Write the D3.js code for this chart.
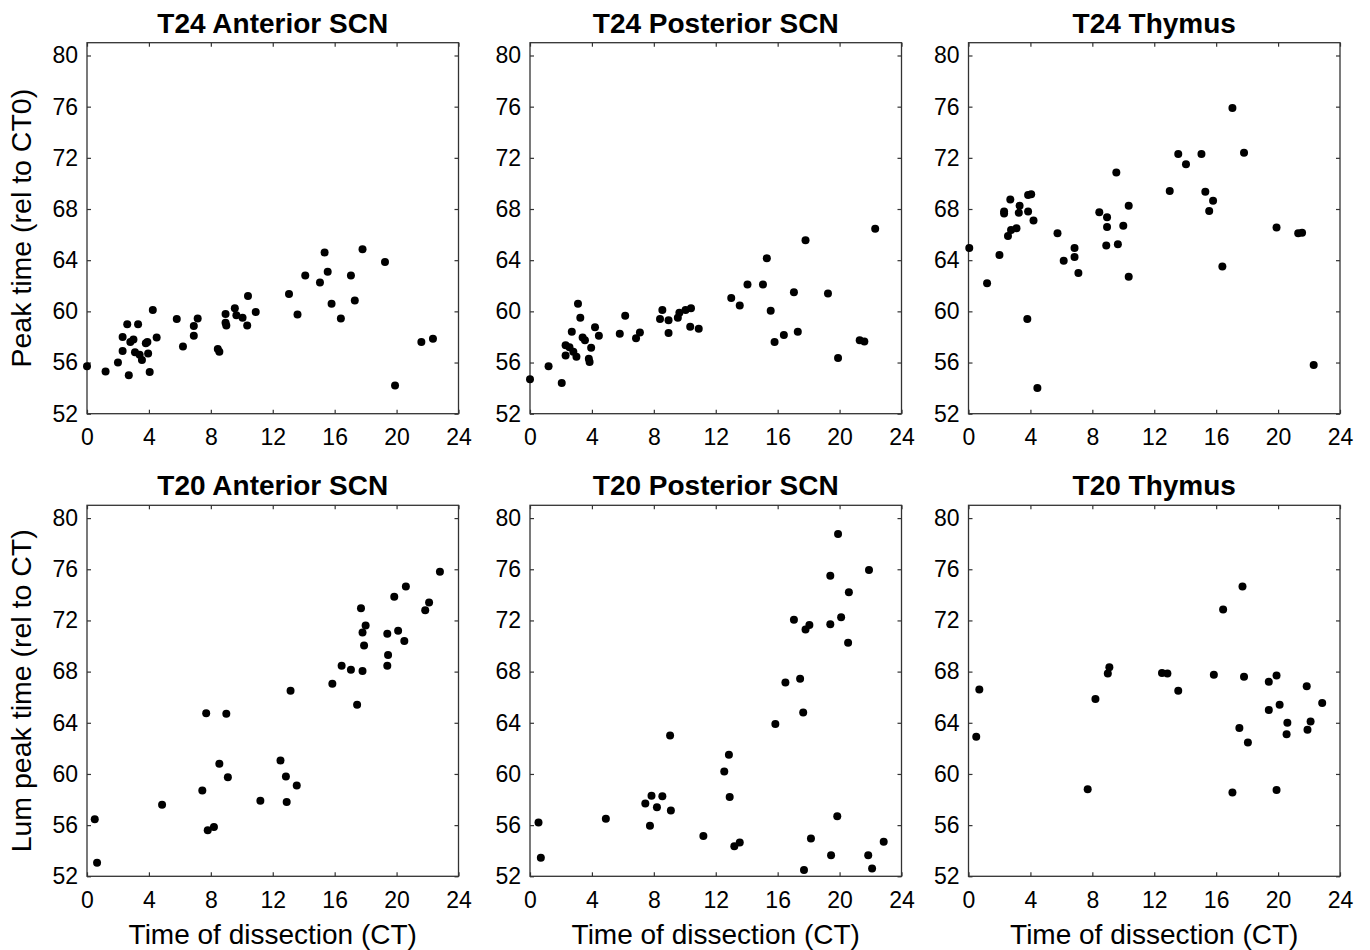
<!DOCTYPE html>
<html>
<head>
<meta charset="utf-8">
<script src="https://cdn.jsdelivr.net/npm/d3@7"></script>
<style>
  body { margin: 0; background: #fff; }
  svg { font-family: "Liberation Sans", Arial, Helvetica, sans-serif; }
</style>
</head>
<body>
<div id="chart"></div>
<script>
// D3 - six scatter panels of peak time vs time of dissection

// tick values
var xTicks = [0, 4, 8, 12, 16, 20, 24];
var yTicks = [52, 56, 60, 64, 68, 72, 76, 80];

// panel titles
var titles = ["T24 Anterior SCN", "T24 Posterior SCN", "T24 Thymus",
  "T20 Anterior SCN", "T20 Posterior SCN", "T20 Thymus"];

var yLabels = ["Peak time (rel to CT0)", "Lum peak time (rel to CT)"];
var xLabel = "Time of dissection (CT)";

// points, [time of dissection, peak time]
var t24Anterior = [
  [0.0, 55.7], [1.2, 55.3], [2.0, 56.0], [2.7, 55.0], [2.3, 56.9], [2.3, 58.0],
  [2.6, 59.0], [3.3, 59.0], [2.8, 57.6], [3.0, 57.8], [3.1, 56.8], [3.4, 56.6],
  [3.55, 56.2], [3.8, 57.5], [3.9, 57.6], [3.95, 56.7], [4.05, 55.25], [4.25, 60.1],
  [4.5, 57.95], [5.8, 59.4], [6.2, 57.25], [6.9, 58.1], [6.9, 58.85], [7.15, 59.45],
  [8.45, 57.05], [8.55, 56.85], [8.95, 59.8], [8.95, 59.1], [9.0, 58.9], [9.55, 60.25],
  [9.65, 59.7], [10.05, 59.5], [10.35, 58.9], [10.4, 61.2], [10.9, 59.95], [13.05, 61.35],
  [13.6, 59.75], [14.1, 62.8], [15.05, 62.25], [15.35, 64.6], [15.55, 63.1], [15.8, 60.6],
  [16.4, 59.45], [17.05, 62.8], [17.3, 60.85], [17.8, 64.85], [19.25, 63.85], [19.9, 54.2],
  [21.6, 57.6], [22.35, 57.85]
];

var t24Posterior = [
  [0.0, 54.7], [1.2, 55.7], [2.05, 54.4], [2.3, 56.55], [2.3, 57.35], [2.55, 57.2],
  [2.7, 58.4], [2.8, 56.85], [3.0, 56.45], [3.1, 60.6], [3.25, 59.5], [3.4, 57.95],
  [3.55, 57.75], [3.8, 56.3], [3.85, 56.05], [3.95, 57.15], [4.2, 58.75], [4.45, 58.1],
  [5.8, 58.25], [6.15, 59.65], [6.85, 57.9], [7.1, 58.35], [8.55, 60.1], [8.4, 59.4],
  [8.95, 59.3], [8.95, 58.3], [9.55, 59.5], [9.65, 59.9], [10.05, 60.1], [10.4, 60.25],
  [10.35, 58.8], [10.9, 58.65], [13.0, 61.05], [13.55, 60.45], [14.05, 62.1], [15.05, 62.1],
  [15.3, 64.15], [15.55, 60.05], [15.8, 57.6], [16.4, 58.15], [17.05, 61.5], [17.3, 58.4],
  [17.8, 65.55], [19.25, 61.4], [19.9, 56.35], [21.3, 57.75], [21.6, 57.65], [22.3, 66.45]
];

var t24Thymus = [
  [0.05, 64.95], [1.2, 62.2], [2.0, 64.4], [2.3, 67.8], [2.3, 67.65], [2.55, 65.9],
  [2.75, 66.35], [3.1, 66.5], [2.7, 68.75], [3.3, 68.25], [3.25, 67.7], [3.85, 67.8],
  [3.85, 69.1], [4.05, 69.15], [4.2, 67.1], [3.8, 59.4], [4.45, 54.0], [5.75, 66.1],
  [6.15, 63.95], [6.85, 64.95], [6.85, 64.25], [7.1, 63.0], [8.45, 67.75], [8.95, 67.35],
  [8.95, 66.6], [8.9, 65.15], [9.65, 65.25], [9.55, 70.85], [10.0, 66.7], [10.35, 68.25],
  [10.35, 62.7], [13.0, 69.4], [13.55, 72.3], [14.05, 71.5], [15.05, 72.3], [15.3, 69.35],
  [15.8, 68.65], [15.55, 67.85], [16.4, 63.5], [17.05, 75.9], [17.8, 72.4], [19.9, 66.55],
  [21.3, 66.1], [21.55, 66.15], [22.3, 55.8]
];

var t20Anterior = [
  [0.5, 56.45], [0.65, 53.05], [4.85, 57.6], [7.45, 58.7], [7.7, 64.75], [7.8, 55.6],
  [8.2, 55.85], [8.55, 60.8], [9.0, 64.7], [9.1, 59.75], [11.2, 57.9], [12.5, 61.05],
  [12.85, 59.8], [12.9, 57.8], [13.15, 66.5], [13.55, 59.1], [15.85, 67.05], [16.45, 68.45],
  [17.05, 68.15], [17.45, 65.4], [17.7, 72.95], [17.8, 71.05], [17.8, 68.05], [17.9, 70.05],
  [18.0, 71.6], [19.4, 70.95], [19.45, 69.3], [19.4, 68.45], [19.85, 73.85], [20.1, 71.2],
  [20.5, 70.4], [20.6, 74.65], [21.85, 72.8], [22.1, 73.4], [22.8, 75.8]
];

var t20Posterior = [
  [0.55, 56.2], [0.7, 53.45], [4.9, 56.5], [7.45, 57.7], [7.75, 55.95], [7.85, 58.3],
  [8.2, 57.4], [8.55, 58.25], [9.05, 63.0], [9.1, 57.15], [11.2, 55.15], [12.55, 60.2],
  [12.85, 61.5], [12.9, 58.2], [13.2, 54.35], [13.55, 54.65], [15.85, 63.9], [16.5, 67.15],
  [17.05, 72.05], [17.45, 67.45], [17.65, 64.8], [17.7, 52.5], [17.8, 71.3], [18.05, 71.65],
  [18.15, 54.95], [19.4, 75.5], [19.4, 71.7], [19.45, 53.65], [19.9, 78.75], [19.85, 56.7],
  [20.1, 72.25], [20.55, 70.25], [20.6, 74.2], [21.85, 53.65], [21.9, 75.95], [22.1, 52.6],
  [22.85, 54.7]
];

var t20Thymus = [
  [0.5, 62.9], [0.7, 66.6], [7.7, 58.8], [8.2, 65.85], [9.0, 67.85], [9.1, 68.35],
  [12.5, 67.9], [12.85, 67.85], [13.55, 66.5], [15.85, 67.75], [16.45, 72.85], [17.05, 58.55],
  [17.5, 63.6], [17.7, 74.65], [17.8, 67.6], [18.05, 62.45], [19.4, 67.2], [19.4, 65.0],
  [19.9, 67.7], [19.9, 58.75], [20.1, 65.4], [20.55, 63.1], [20.6, 64.0], [21.85, 66.85],
  [21.9, 63.45], [22.1, 64.1], [22.85, 65.55]
];

var panelData = [t24Anterior, t24Posterior, t24Thymus, t20Anterior, t20Posterior, t20Thymus];

// chart setup
var svgWidth = 1370;
var svgHeight = 950;

// panel placement
var colLeft = [87, 530, 968.5];
var rowTop = [42.7, 505.3];
var panelWidth = 371.5;
var panelHeight = 371;
var tickLen = 4;
var fontSize = 23;
var labelSize = 28;

var svg = d3.select("#chart")
  .append("svg")
  .attr("width", svgWidth)
  .attr("height", svgHeight);

var xScale = d3.scaleLinear().domain([0, 24]).range([0, panelWidth]);
var yScale = d3.scaleLinear().domain([52, 81]).range([panelHeight, 0]);

function styleAxis(g, showLabels) {
  g.select(".domain").remove();
  g.selectAll(".tick line").attr("stroke", "#333").attr("stroke-width", 1.2);
  g.selectAll(".tick text")
    .attr("fill", "#000")
    .attr("font-size", fontSize)
    .style("display", showLabels ? null : "none");
}

panelData.forEach(function(data, i) {
  var row = Math.floor(i / 3);
  var col = i % 3;

  var g = svg.append("g")
    .attr("transform", `translate(${colLeft[col]}, ${rowTop[row]})`);

  // axes with inward ticks on all four sides
  g.append("g")
    .attr("transform", `translate(0, ${panelHeight})`)
    .call(d3.axisBottom(xScale).tickValues(xTicks).tickSizeInner(-tickLen).tickSizeOuter(0).tickPadding(15))
    .call(styleAxis, true);

  g.append("g")
    .call(d3.axisTop(xScale).tickValues(xTicks).tickSizeInner(-tickLen).tickSizeOuter(0))
    .call(styleAxis, false);

  g.append("g")
    .call(d3.axisLeft(yScale).tickValues(yTicks).tickSizeInner(-tickLen).tickSizeOuter(0).tickPadding(9))
    .call(styleAxis, true);

  g.append("g")
    .attr("transform", `translate(${panelWidth}, 0)`)
    .call(d3.axisRight(yScale).tickValues(yTicks).tickSizeInner(-tickLen).tickSizeOuter(0))
    .call(styleAxis, false);

  // box
  g.append("rect")
    .attr("width", panelWidth)
    .attr("height", panelHeight)
    .attr("fill", "none")
    .attr("stroke", "#333")
    .attr("stroke-width", 1.3);

  // points
  g.selectAll("circle")
    .data(data)
    .enter()
    .append("circle")
    .attr("cx", d => xScale(d[0]))
    .attr("cy", d => yScale(d[1]))
    .attr("r", 4)
    .attr("fill", "#000");

  // title
  g.append("text")
    .attr("x", panelWidth / 2)
    .attr("y", -10)
    .attr("text-anchor", "middle")
    .attr("font-size", labelSize)
    .attr("font-weight", "bold")
    .text(titles[i]);

  // x label on bottom row
  if (row === 1) {
    g.append("text")
      .attr("x", panelWidth / 2)
      .attr("y", panelHeight + 68)
      .attr("text-anchor", "middle")
      .attr("font-size", labelSize)
      .text(xLabel);
  }

  // y label on left column
  if (col === 0) {
    g.append("text")
      .attr("transform", `translate(-56, ${panelHeight / 2}) rotate(-90)`)
      .attr("text-anchor", "middle")
      .attr("font-size", 28.5)
      .text(yLabels[row]);
  }
});
</script>
</body>
</html>
